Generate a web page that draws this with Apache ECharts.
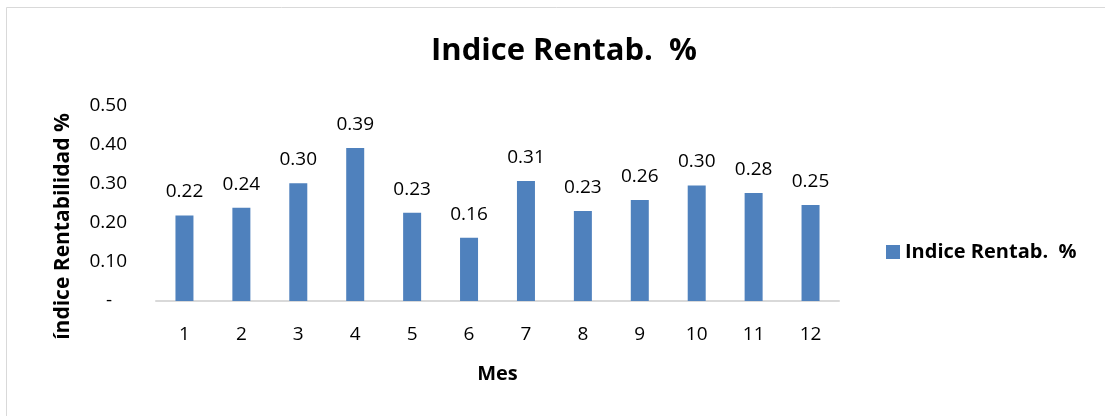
<!DOCTYPE html>
<html>
<head>
<meta charset="utf-8">
<script src="https://cdn.jsdelivr.net/npm/echarts@6/dist/echarts.min.js"></script>
<style>
html,body{margin:0;padding:0;background:#fff;}
#chart{width:1105px;height:416px;}
</style>
</head>
<body>
<div id="chart"></div>
<script>
// datos
var meses = ['1','2','3','4','5','6','7','8','9','10','11','12'];
var indiceRentab = [0.219, 0.239, 0.302, 0.392, 0.226, 0.162, 0.308, 0.231, 0.259, 0.296, 0.277, 0.246];
var yTicks = [0, 0.1, 0.2, 0.3, 0.4, 0.5];

var font = 'Open Sans';
var myChart = echarts.init(document.getElementById('chart'));
var option = {
    backgroundColor: '#fff',
    animation: false,
    graphic: [{
        type: 'rect',
        shape: {x: 6.5, y: 7.5, width: 1110, height: 420},
        style: {fill: 'none', stroke: '#d9d9d9', lineWidth: 1}
    }],
    title: {
        text: 'Indice Rentab.  %',
        left: 559,
        top: 31,
        textAlign: 'center',
        textStyle: {fontFamily: font, fontSize: 31, fontWeight: 'bold', color: '#000'}
    },
    legend: {
        data: ['Indice Rentab.  %'],
        left: 881,
        top: 237,
        itemWidth: 14,
        itemHeight: 14,
        itemGap: 10,
        icon: 'rect',
        textStyle: {fontFamily: font, fontSize: 20, fontWeight: 'bold', color: '#000'}
    },
    grid: {
        left: 156,
        right: 266,
        top: 106,
        bottom: 115,
        containLabel: false
    },
    xAxis: {
        type: 'category',
        data: meses,
        name: 'Mes',
        nameLocation: 'middle',
        nameGap: 63,
        nameTextStyle: {fontFamily: font, fontSize: 20, fontWeight: 'bold', color: '#000'},
        axisLine: {lineStyle: {color: '#d9d9d9', width: 2}},
        axisTick: {show: false},
        axisLabel: {fontFamily: font, fontSize: 19, color: '#000', margin: 24}
    },
    yAxis: {
        type: 'value',
        min: 0,
        max: 0.5,
        interval: 0.1,
        name: 'índice Rentabilidad %',
        nameLocation: 'middle',
        nameGap: 82,
        nameTextStyle: {fontFamily: font, fontSize: 21, fontWeight: 'bold', color: '#000', padding: [0, 46, 0, 0]},
        axisLine: {show: false},
        axisTick: {show: false},
        splitLine: {show: false},
        axisLabel: {
            fontFamily: font, fontSize: 19, color: '#000', margin: 29,
            formatter: function (v) { return v === 0 ? '-   ' : v.toFixed(2); }
        }
    },
    series: [{
        name: 'Indice Rentab.  %',
        type: 'bar',
        data: indiceRentab,
        barWidth: 18,
        itemStyle: {color: '#4f81bd'},
        label: {
            show: true,
            position: 'top',
            distance: 14,
            fontFamily: font,
            fontSize: 19,
            color: '#000',
            formatter: function (p) { return p.value.toFixed(2); }
        }
    }]
};
myChart.setOption(option);
</script>
</body>
</html>
